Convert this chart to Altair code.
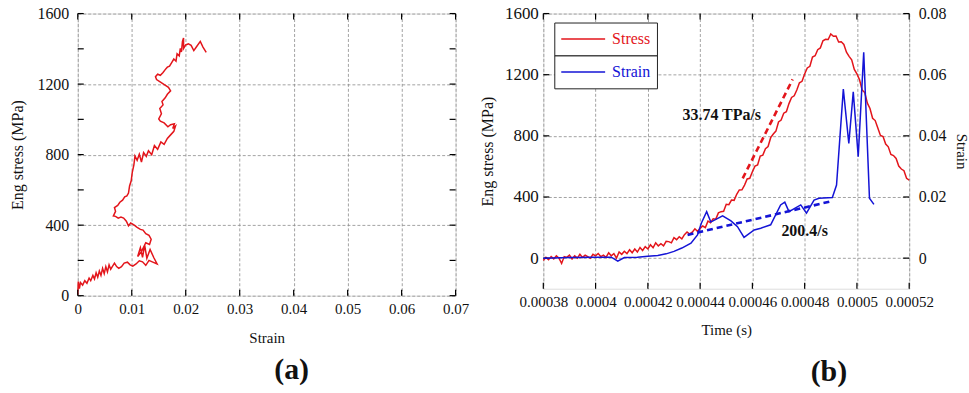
import altair as alt
import pandas as pd

FONT = "Liberation Serif"
RED = "#e3151b"
BLUE = "#1414d6"
GRID = "#8c8c8c"
TXT = "#111111"

# ---------------- panel (a): stress-strain ----------------
a_strain = [0.0000, 0.0001, 0.0003, 0.0005, 0.0009, 0.0013, 0.0017, 0.0021, 0.0024, 0.0028,
            0.0031, 0.0034, 0.0037, 0.0040, 0.0043, 0.0046, 0.0049, 0.0052, 0.0055, 0.0058,
            0.0061, 0.0064, 0.0068, 0.0072, 0.0076, 0.0081, 0.0086, 0.0092, 0.0097, 0.0102,
            0.0108, 0.0114, 0.0120, 0.0126, 0.0132, 0.0138, 0.0147, 0.0141, 0.0134, 0.0128,
            0.0124, 0.0120, 0.0116, 0.0111, 0.0118, 0.0126, 0.0133, 0.0136, 0.0132, 0.0126,
            0.0121, 0.0116, 0.0110, 0.0104, 0.0098, 0.0094, 0.0090, 0.0085, 0.0080, 0.0075,
            0.0070, 0.0066, 0.0070, 0.0068, 0.0074, 0.0078, 0.0083, 0.0087, 0.0091, 0.0094,
            0.0096, 0.0099, 0.0101, 0.0104, 0.0106, 0.0110, 0.0114, 0.0118, 0.0122, 0.0127,
            0.0131, 0.0137, 0.0142, 0.0148, 0.0154, 0.0160, 0.0166, 0.0172, 0.0178, 0.0181,
            0.0176, 0.0179, 0.0172, 0.0167, 0.0160, 0.0153, 0.0150, 0.0155, 0.0152, 0.0158,
            0.0156, 0.0162, 0.0166, 0.0172, 0.0168, 0.0161, 0.0154, 0.0146, 0.0144, 0.0148,
            0.0153, 0.0158, 0.0162, 0.0166, 0.0170, 0.0174, 0.0178, 0.0182, 0.0184, 0.0188,
            0.0190, 0.0192, 0.0194, 0.0196, 0.0196, 0.0200, 0.0205, 0.0210, 0.0215, 0.0220,
            0.0227, 0.0232, 0.0238]
a_stress = [5, 80, 40, 75, 60, 85, 70, 100, 85, 115,
            95, 130, 105, 140, 115, 155, 125, 165, 135, 175,
            150, 165, 185, 165, 155, 165, 185, 190, 175, 168,
            180, 198, 192, 172, 200, 192, 180, 215, 262, 212,
            285, 218, 272, 222, 250, 300, 290, 320, 342, 352,
            372, 376, 388, 402, 412, 396, 422, 440, 446, 440,
            450, 452, 478, 500, 512, 530, 542, 560, 566, 582,
            622, 652, 700, 742, 792, 768, 802, 758, 812, 790,
            822, 800, 852, 830, 872, 858, 892, 912, 932, 962,
            948, 975, 970, 958, 980, 990, 1002, 1032, 1062, 1082,
            1102, 1122, 1142, 1162, 1182, 1196, 1210, 1226, 1242, 1256,
            1250, 1266, 1282, 1296, 1302, 1322, 1342, 1330, 1372, 1360,
            1402, 1382, 1442, 1462, 1402, 1422, 1428, 1420, 1390, 1412,
            1442, 1410, 1380]
a_strain_ticks = [0, 0.01, 0.02, 0.03, 0.04, 0.05, 0.06, 0.07]
a_stress_ticks = [0, 200, 400, 600, 800, 1000, 1200, 1400, 1600]

# ---------------- panel (b): time histories ----------------
b_t0 = 0.00038          # first sample (s)
b_dt = 0.000001         # sample period (s)
b_stress = [-15, 5, -10, 10, -5, 15, 0, -35, 10, 5, 20, -5, 15, 0, 25, 5, 20, 10, 0, 25, 15,
            30, 10, 20, 5, 35, 15, 30, 0, 40, 25, 45, 30, 55, 35, 60, 40, 70, 50, 75, 60,
            87, 68, 100, 80, 94, 80, 110, 108, 100, 134, 121, 140, 126, 154, 171, 158, 170, 192, 175, 195,
            210, 200, 242, 232, 258, 255, 296, 304, 306, 352, 350, 380, 378, 418, 446, 447, 478, 518, 522, 565,
            602, 610, 668, 674, 716, 730, 788, 812, 831, 891, 903, 948, 958, 1011, 1051, 1062, 1100, 1147, 1157, 1205,
            1244, 1255, 1315, 1324, 1364, 1375, 1422, 1432, 1430, 1466, 1451, 1453, 1414, 1416, 1398, 1347, 1320, 1297, 1235, 1205,
            1167, 1100, 1083, 1014, 979, 915, 900, 852, 803, 796, 746, 728, 678, 671, 652, 602, 583, 572, 522, 510]
b_strain_time = [0.00038, 0.00039, 0.0004, 0.000406, 0.0004085, 0.000411, 0.000416, 0.00042,
                 0.0004238, 0.000427, 0.00043, 0.000433, 0.0004365, 0.000439, 0.0004405, 0.0004425,
                 0.0004441, 0.0004486, 0.0004518, 0.0004543, 0.0004568, 0.0004607, 0.0004632, 0.000467,
                 0.0004708, 0.0004724, 0.000474, 0.0004785, 0.0004807, 0.0004836, 0.0004855, 0.0004906,
                 0.0004922, 0.0004948, 0.0004969, 0.0004986, 0.0005005, 0.0005026, 0.0005048, 0.0005065]
b_strain = [0.0000, 0.0002, 0.0003, 0.0003, -0.0010, 0.0002, 0.0003, 0.0006,
            0.0009, 0.0014, 0.0022, 0.0033, 0.0049, 0.0076, 0.0115, 0.0152,
            0.0118, 0.0138, 0.0122, 0.0103, 0.0068, 0.0092, 0.0098, 0.0109,
            0.0174, 0.0183, 0.0152, 0.0174, 0.0147, 0.0190, 0.0196, 0.0198,
            0.0239, 0.0553, 0.0375, 0.0544, 0.0332, 0.0673, 0.0196, 0.0176]
b_stress_fit_time = [0.0004563, 0.0004754]
b_stress_fit = [522, 1169]
b_strain_fit_time = [0.0004352, 0.0004907]
b_strain_fit = [0.0076, 0.0187]
b_time_ticks = [0.00038, 0.0004, 0.00042, 0.00044, 0.00046, 0.00048, 0.0005, 0.00052]
b_stress_ticks = [0, 400, 800, 1200, 1600]
b_strain_ticks = [0, 0.02, 0.04, 0.06, 0.08]
labels = {"rate_stress": "33.74 TPa/s", "rate_strain": "200.4/s"}

WA, HA = 379, 283
WB, HB = 367, 276
TK = 6  # inward tick length


def lin_axis(**kw):
    base = dict(grid=True, gridDash=[3, 2], gridColor=GRID, gridWidth=0.8, tickSize=0,
                domain=False, labelFont=FONT, labelColor=TXT, titleFont=FONT,
                labelOverlap=False, labelFlush=False,
                titleFontWeight="normal", titleColor=TXT)
    base.update(kw)
    return alt.Axis(**base)


# ---------------- build panel (a) ----------------
df_a = pd.DataFrame({"i": list(range(len(a_strain))), "strain": a_strain, "stress": a_stress})
sc_xa = alt.Scale(domain=[0, 0.07], nice=False, zero=False)
sc_ya = alt.Scale(domain=[0, 1600], nice=False)

line_a = alt.Chart(df_a).mark_line(color=RED, strokeWidth=1.5).encode(
    x=alt.X("strain:Q", scale=sc_xa,
            axis=lin_axis(values=a_strain_ticks, format="~g", title="Strain",
                          labelFontSize=15, labelPadding=6, titleFontSize=15, titlePadding=14)),
    y=alt.Y("stress:Q", scale=sc_ya,
            axis=lin_axis(values=a_stress_ticks, format="d", title="Eng stress (MPa)",
                          labelFontSize=16, labelPadding=9, titleFontSize=16, titlePadding=11)),
    order="i:Q",
)
tx_a = pd.DataFrame({"strain": a_strain_ticks})
ty_a = pd.DataFrame({"stress": a_stress_ticks})
ticks_a = [
    alt.Chart(tx_a).mark_rule(color="black", strokeWidth=1.2).encode(
        x="strain:Q", y=alt.value(HA), y2=alt.value(HA - TK)),
    alt.Chart(tx_a).mark_rule(color="black", strokeWidth=1.2).encode(
        x="strain:Q", y=alt.value(0), y2=alt.value(TK)),
    alt.Chart(ty_a).mark_rule(color="black", strokeWidth=1.2).encode(
        y="stress:Q", x=alt.value(0), x2=alt.value(TK)),
    alt.Chart(ty_a).mark_rule(color="black", strokeWidth=1.2).encode(
        y="stress:Q", x=alt.value(WA - TK), x2=alt.value(WA)),
]
panel_a = alt.layer(line_a, *ticks_a).properties(
    width=WA, height=HA,
    title=alt.TitleParams("(a)", orient="bottom", anchor="middle", frame="group", dx=25,
                          offset=10, font=FONT, fontSize=30, fontWeight="bold", color=TXT),
)

# ---------------- build panel (b) ----------------
df_bs = pd.DataFrame({"t": [b_t0 + k * b_dt for k in range(len(b_stress))],
                      "stress": b_stress, "series": "Stress"})
df_be = pd.DataFrame({"t": b_strain_time, "strain": b_strain, "series": "Strain"})
df_fs = pd.DataFrame({"t": b_stress_fit_time, "stress": b_stress_fit})
df_fe = pd.DataFrame({"t": b_strain_fit_time, "strain": b_strain_fit})

sc_t = alt.Scale(domain=[0.00038, 0.00052], nice=False, zero=False)
sc_s = alt.Scale(domain=[-200, 1600], nice=False)
sc_e = alt.Scale(domain=[-0.01, 0.08], nice=False)

x_t = alt.X("t:Q", scale=sc_t,
            axis=lin_axis(values=b_time_ticks, format="~g", title="Time (s)",
                          labelFontSize=15, labelPadding=6, titleFontSize=15, titlePadding=13))

leg_common = dict(title=None, orient="none", legendX=11, symbolType="stroke", symbolSize=1936,
                  symbolStrokeWidth=1.5, clipHeight=21, labelFont=FONT, labelFontSize=16,
                  strokeColor="#222222", fillColor="white", padding=6, labelOffset=6)

stress_line = alt.Chart(df_bs).mark_line(strokeWidth=1.5).encode(
    x=x_t,
    y=alt.Y("stress:Q", scale=sc_s,
            axis=lin_axis(values=b_stress_ticks, format="d", title="Eng stress (MPa)",
                          labelFontSize=17, labelPadding=5, titleFontSize=16, titlePadding=9)),
    color=alt.Color("series:N", scale=alt.Scale(domain=["Stress"], range=[RED]),
                    legend=alt.Legend(legendY=9, labelColor=RED, **leg_common)),
)
stress_fit = alt.Chart(df_fs).mark_line(color=RED, strokeWidth=2.6, strokeDash=[6, 4]).encode(
    x="t:Q", y="stress:Q")
stress_txt = alt.Chart(pd.DataFrame({"t": [0.0004483], "stress": [934],
                                     "label": [labels["rate_stress"]]})).mark_text(
    font=FONT, fontSize=16, fontWeight="bold", color=TXT).encode(
    x="t:Q", y="stress:Q", text="label:N")
tx_b = pd.DataFrame({"t": b_time_ticks})
ty_b = pd.DataFrame({"stress": b_stress_ticks})
ticks_b = [
    alt.Chart(tx_b).mark_rule(color="black", strokeWidth=1.2).encode(
        x="t:Q", y=alt.value(HB), y2=alt.value(HB - TK)),
    alt.Chart(tx_b).mark_rule(color="black", strokeWidth=1.2).encode(
        x="t:Q", y=alt.value(0), y2=alt.value(TK)),
    alt.Chart(ty_b).mark_rule(color="black", strokeWidth=1.2).encode(
        y="stress:Q", x=alt.value(0), x2=alt.value(TK)),
    alt.Chart(ty_b).mark_rule(color="black", strokeWidth=1.2).encode(
        y="stress:Q", x=alt.value(WB - TK), x2=alt.value(WB)),
]
layer_stress = alt.layer(stress_line, stress_fit, stress_txt, *ticks_b)

strain_line = alt.Chart(df_be).mark_line(strokeWidth=1.5).encode(
    x="t:Q",
    y=alt.Y("strain:Q", scale=sc_e,
            axis=alt.Axis(orient="right", values=b_strain_ticks, format="~g", title="Strain",
                          grid=False, tickSize=0, domain=False, labelFont=FONT, labelFontSize=16,
                          labelColor=TXT, labelPadding=9, labelOverlap=False, titleFont=FONT,
                          titleFontSize=15, titleFontWeight="normal", titleColor=TXT,
                          titlePadding=7)),
    color=alt.Color("series:N", scale=alt.Scale(domain=["Strain"], range=[BLUE]),
                    legend=alt.Legend(legendY=42, labelColor=BLUE, **leg_common)),
)
strain_fit = alt.Chart(df_fe).mark_line(color=BLUE, strokeWidth=2.6, strokeDash=[6, 4]).encode(
    x="t:Q", y="strain:Q")
strain_txt = alt.Chart(pd.DataFrame({"t": [0.00048], "strain": [0.0088],
                                     "label": [labels["rate_strain"]]})).mark_text(
    font=FONT, fontSize=16, fontWeight="bold", color=TXT).encode(
    x="t:Q", y="strain:Q", text="label:N")
layer_strain = alt.layer(strain_line, strain_fit, strain_txt)

panel_b = alt.layer(layer_stress, layer_strain).resolve_scale(
    y="independent", color="independent").properties(
    width=WB, height=HB,
    title=alt.TitleParams("(b)", orient="bottom", anchor="middle", frame="group", dx=103,
                          offset=20, font=FONT, fontSize=30, fontWeight="bold", color=TXT),
)

chart = alt.hconcat(panel_a, panel_b, spacing=9).resolve_scale(color="independent").properties(
    padding={"left": 9, "top": 3, "right": 0, "bottom": 0},
).configure_view(stroke="black", strokeWidth=2.5).configure(font=FONT).configure_axis(
    labelFont=FONT, titleFont=FONT, labelOverlap=False, labelFlush=False
).configure_legend(labelFont=FONT)

chart.save("out.html", embed_options={"renderer": "svg", "actions": False})
